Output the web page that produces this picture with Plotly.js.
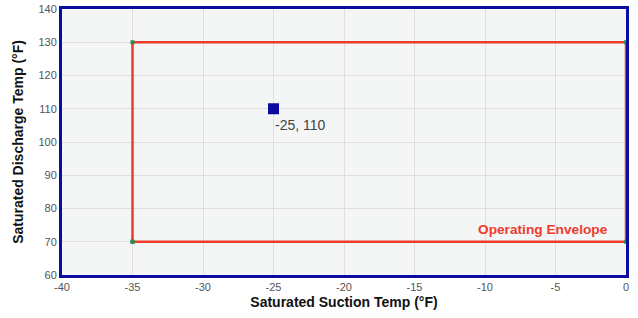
<!DOCTYPE html>
<html>
<head>
<meta charset="utf-8">
<script src="https://cdn.plot.ly/plotly-3.0.1.min.js"></script>
<style>html,body{margin:0;padding:0;background:#fff;}#chart{width:638px;height:318px;}</style>
</head>
<body>
<div id="chart"></div>
<script>
const envelopeX = [-35, -35, 0, 0, -35];
const envelopeY = [70, 130, 130, 70, 70];
const pointX = [-25];
const pointY = [110];
const pointLabels = ["-25, 110"];
const envelopeLabel = "Operating Envelope";
const xTicks = [-40, -35, -30, -25, -20, -15, -10, -5, 0];
const yTicks = [60, 70, 80, 90, 100, 110, 120, 130, 140];

const traces = [
  {
    x: envelopeX, y: envelopeY, type: 'scatter', mode: 'lines+markers',
    line: {color: '#ee3b2e', width: 2.5},
    marker: {symbol: 'square', size: 4, color: '#2e8b4a'},
    cliponaxis: false, hoverinfo: 'skip', showlegend: false
  },
  {
    x: pointX, y: pointY, type: 'scatter', mode: 'markers',
    marker: {symbol: 'square', size: 11, color: '#0c0ca0'},
    showlegend: false
  }
];

const layout = {
  width: 638, height: 318,
  margin: {l: 62, r: 12, t: 9, b: 43},
  paper_bgcolor: '#ffffff',
  plot_bgcolor: '#f4f5f5',
  font: {family: 'Arial, Liberation Sans, sans-serif', color: '#555', size: 11},
  xaxis: {
    range: [-40, 0], tickvals: xTicks, ticktext: xTicks.map(String),
    showgrid: true, gridcolor: '#dedede', gridwidth: 1, zeroline: false,
    showline: true, mirror: true, linecolor: '#0c0ca0', linewidth: 3,
    ticks: '', tickfont: {size: 11, color: '#555'},
    title: {text: 'Saturated Suction Temp (°F)', font: {size: 14, color: '#111', family: 'Arial, Liberation Sans, sans-serif', weight: 'bold'}, standoff: 5}
  },
  yaxis: {
    range: [60, 140], tickvals: yTicks, ticktext: yTicks.map(String),
    showgrid: true, gridcolor: '#dedede', gridwidth: 1, zeroline: false,
    showline: true, mirror: true, linecolor: '#0c0ca0', linewidth: 3,
    ticks: '', tickfont: {size: 11, color: '#555'},
    title: {text: 'Saturated Discharge Temp (°F)', font: {size: 14, color: '#111', family: 'Arial, Liberation Sans, sans-serif', weight: 'bold'}, standoff: 12}
  },
  annotations: [
    {
      x: -1.15, y: 73.8, xref: 'x', yref: 'y', xanchor: 'right', yanchor: 'middle',
      text: '<b>' + envelopeLabel + '</b>', showarrow: false,
      font: {size: 13.7, color: '#ee3b2e', family: 'Arial, Liberation Sans, sans-serif'}
    },
    {
      x: pointX[0], y: pointY[0], xref: 'x', yref: 'y', xanchor: 'left', yanchor: 'top',
      xshift: -1, yshift: -6,
      text: pointLabels[0], showarrow: false,
      font: {size: 14, color: '#444', family: 'Arial, Liberation Sans, sans-serif'}
    }
  ]
};

Plotly.newPlot('chart', traces, layout, {displayModeBar: false, staticPlot: true});
</script>
</body>
</html>
